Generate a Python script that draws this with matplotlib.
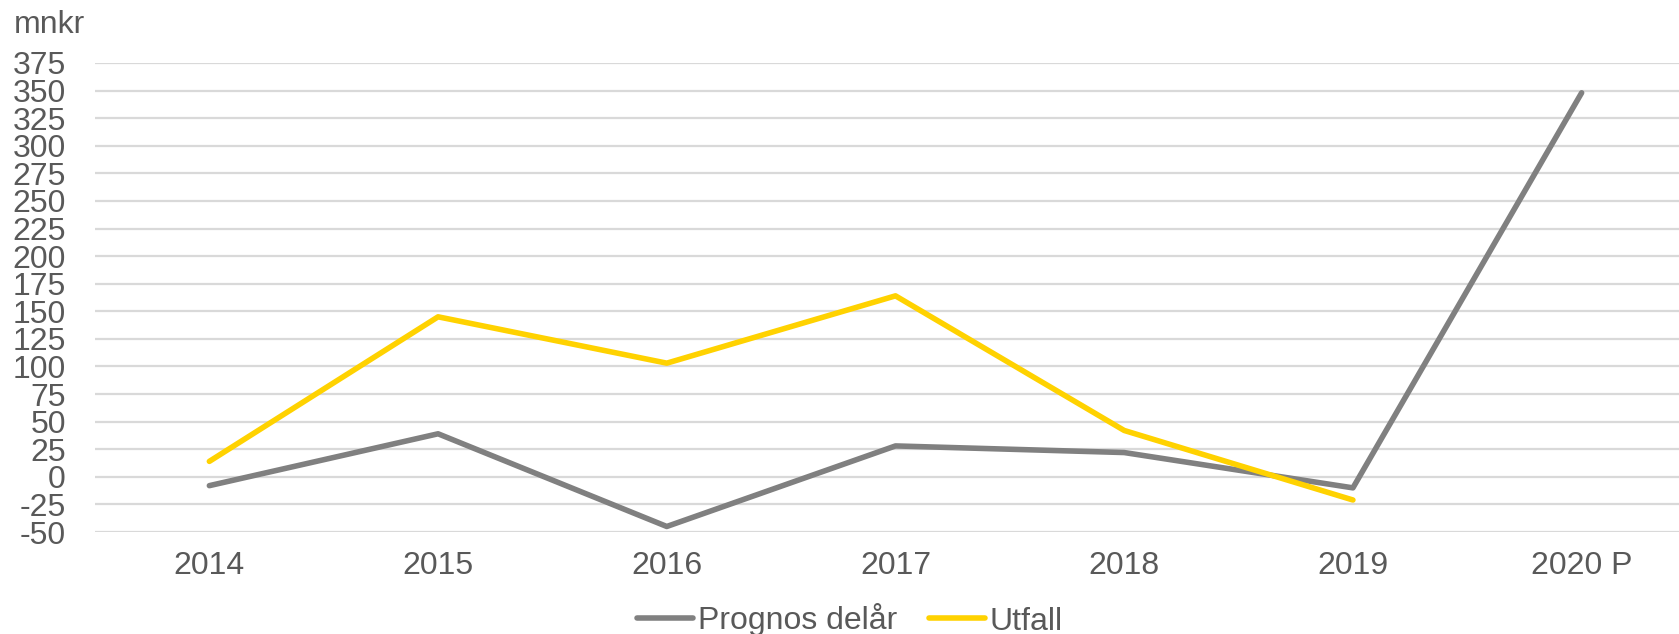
import matplotlib.pyplot as plt

plt.rcParams['font.family'] = ['Liberation Sans', 'DejaVu Sans']

years = ['2014', '2015', '2016', '2017', '2018', '2019', '2020 P']
prognos = [-8, 39, -45, 28, 22, -10, 348]
utfall = [14, 145, 103, 164, 42, -21]
yticks = list(range(-50, 376, 25))

textcol = '#595959'

fig = plt.figure(figsize=(16.79, 6.34), dpi=100)
ax = fig.add_axes([95/1679, 1 - 532/634, 1601/1679, 469/634])

x = list(range(len(years)))
ax.plot(x, prognos, color='#808080', lw=4, solid_capstyle='round', label='Prognos delår', zorder=3)
ax.plot(x[:len(utfall)], utfall, color='#FFD200', lw=4, solid_capstyle='round', label='Utfall', zorder=3)

ax.set_xlim(-0.5, len(years) - 0.5)
ax.set_ylim(-50, 375)
ax.set_yticks(yticks)
ax.set_yticklabels([str(v) for v in yticks])
ax.set_xticks(x)
ax.set_xticklabels(years)
ax.yaxis.grid(True, color='#D9D9D9', lw=1.6)
ax.set_axisbelow(True)
for s in ax.spines.values():
    s.set_visible(False)
ax.tick_params(axis='both', length=0, labelsize=23, labelcolor=textcol)
ax.tick_params(axis='y', pad=21)
ax.tick_params(axis='x', pad=14)

fig.text(14/1679, 1 - 25/634, 'mnkr', fontsize=23, color=textcol, va='center', ha='left')

leg = fig.legend(loc='center', bbox_to_anchor=(850/1679, 1 - 620/634), ncol=2, frameon=False,
                 fontsize=23, handlelength=1.75, handletextpad=0.15, columnspacing=1.0,
                 borderaxespad=0, borderpad=0)
for t in leg.get_texts():
    t.set_color(textcol)

fig.savefig('out.png', dpi=100)
